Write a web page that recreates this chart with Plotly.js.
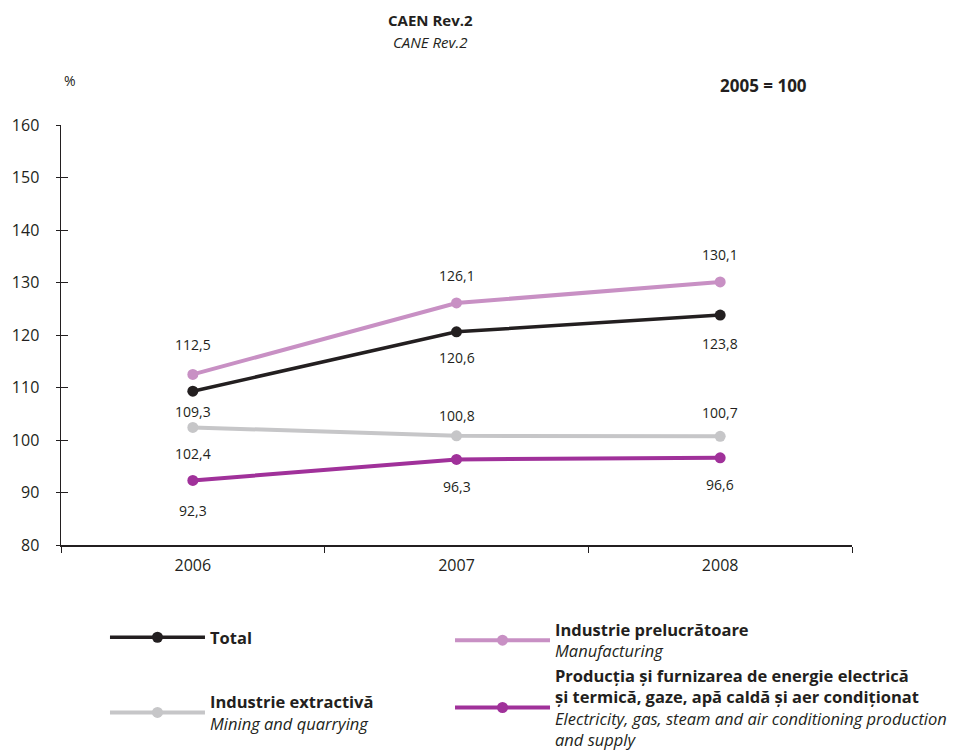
<!DOCTYPE html>
<html>
<head>
<meta charset="utf-8">
<script src="https://cdn.plot.ly/plotly-3.0.1.min.js"></script>
<style>html,body{margin:0;padding:0;background:#fff;}#chart{width:977px;height:751px;}</style>
</head>
<body>
<div id="chart"></div>
<script>
// ---- data ----
const years = ['2006', '2007', '2008'];
const total = [109.3, 120.6, 123.8];
const manufacturing = [112.5, 126.1, 130.1];
const mining = [102.4, 100.8, 100.7];
const energy = [92.3, 96.3, 96.6];
const yTicks = [80, 90, 100, 110, 120, 130, 140, 150, 160];

const seriesNames = {
  total: '<b>Total</b>',
  manufacturing: '<b>Industrie prelucrătoare</b><br><i>Manufacturing</i>',
  mining: '<b>Industrie extractivă</b><br><i>Mining and quarrying</i>',
  energy: '<b>Producția și furnizarea de energie electrică<br>și termică, gaze, apă caldă și aer condiționat</b><br><i>Electricity, gas, steam and air conditioning production<br>and supply</i>'
};

// ---- style ----
const FONT = 'Open Sans, Noto Sans, sans-serif';
const INK = '#231f20';
const colors = {total: '#231f20', manufacturing: '#c890c4', mining: '#c6c6c8', energy: '#a0319a'};
const widths = {total: 3.5, manufacturing: 4, mining: 4, energy: 4};
const legendOf = {total: 'legend', manufacturing: 'legend2', mining: 'legend', energy: 'legend2'};
const labelShift = {
  total: [-20, -26, -28],
  manufacturing: [30, 27, 27],
  mining: [-26, 20, 24],
  energy: [-30, -27, -27]
};

const order = ['total', 'manufacturing', 'mining', 'energy'];
const values = {total, manufacturing, mining, energy};

const traces = order.map(k => ({
  type: 'scatter', mode: 'lines+markers',
  x: years, y: values[k], name: seriesNames[k],
  legend: legendOf[k], legendgroup: k,
  line: {color: colors[k], width: widths[k]},
  marker: {color: colors[k], size: 11},
  cliponaxis: false
}));
// invisible trace on overlay axis for the inner half of the y tick marks
traces.push({type: 'scatter', x: years, y: total, yaxis: 'y2', mode: 'none', showlegend: false, hoverinfo: 'skip'});

const fmt = v => v.toFixed(1).replace('.', ',');
const annotations = [];
order.forEach(k => {
  values[k].forEach((v, i) => {
    annotations.push({
      x: i, y: v, xref: 'x', yref: 'y', text: fmt(v), showarrow: false,
      yshift: labelShift[k][i], font: {family: FONT, size: 14, color: INK}
    });
  });
});
const paperNote = (x, y, text, size) => ({
  xref: 'paper', yref: 'paper', x: x, y: y, xanchor: 'center', yanchor: 'middle',
  text: text, showarrow: false, font: {family: FONT, size: size, color: INK}
});
annotations.push(
  paperNote(0.4665, 1.250, '<b>CAEN Rev.2</b>', 15),
  paperNote(0.4665, 1.198, '<i>CANE Rev.2</i>', 15),
  paperNote(0.0110, 1.107, '%', 14),
  paperNote(0.8880, 1.095, '<b>2005 = 100</b>', 17)
);

const legendBase = {
  orientation: 'v', xanchor: 'left', yanchor: 'top',
  itemwidth: 95, valign: 'middle', bgcolor: 'rgba(0,0,0,0)',
  font: {family: FONT, size: 16.5, color: INK}, traceorder: 'grouped'
};

const layout = {
  width: 977, height: 751,
  margin: {l: 61, r: 125, t: 125, b: 206, autoexpand: false},
  paper_bgcolor: '#fff', plot_bgcolor: '#fff',
  showlegend: true,
  font: {family: FONT, color: INK, size: 14},
  xaxis: {
    type: 'category', range: [-0.5, 2.5], tickson: 'boundaries',
    ticks: 'outside', ticklen: 6, tickwidth: 1, tickcolor: INK,
    showline: true, linecolor: INK, linewidth: 1.5, showgrid: false, zeroline: false,
    tickfont: {family: FONT, size: 16, color: INK}, ticklabelstandoff: 5
  },
  yaxis: {
    range: [80, 160], tickvals: yTicks, ticks: 'outside', ticklen: 4, tickwidth: 1, tickcolor: INK,
    showline: true, linecolor: INK, linewidth: 1.5, showgrid: false, zeroline: false,
    tickfont: {family: FONT, size: 16, color: INK}, ticklabelstandoff: 13
  },
  yaxis2: {
    overlaying: 'y', side: 'left', range: [80, 160], tickvals: yTicks, ticks: 'inside', ticklen: 7,
    tickwidth: 1, tickcolor: INK, showticklabels: false, showline: false, showgrid: false, zeroline: false
  },
  legend: Object.assign({}, legendBase, {x: 0.0556, y: -0.1786, tracegroupgap: 40}),
  legend2: Object.assign({}, legendBase, {x: 0.4918, y: -0.160, tracegroupgap: 0}),
  annotations: annotations
};

Plotly.newPlot('chart', traces, layout, {displayModeBar: false, staticPlot: true});
</script>
</body>
</html>
